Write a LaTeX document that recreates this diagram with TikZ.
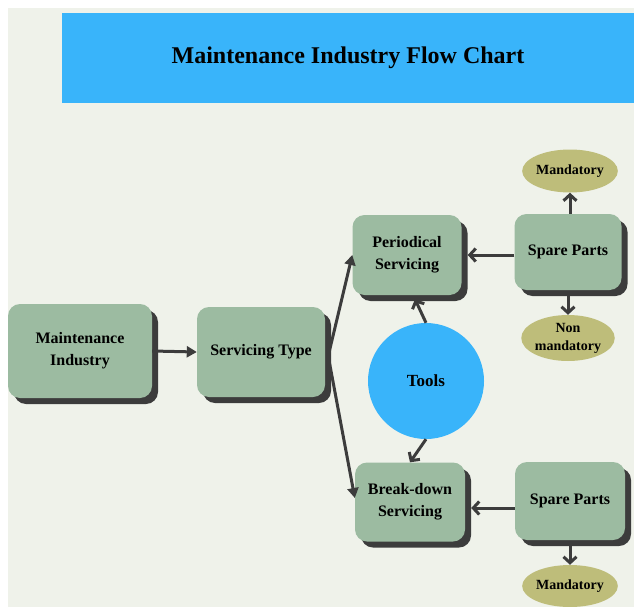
\documentclass[tikz,border=0pt]{standalone}
\usepackage{fontspec}
\setmainfont{Liberation Serif}
\usetikzlibrary{shadows,arrows.meta,calc,shapes.geometric}

\definecolor{bgcol}{RGB}{239,242,234}
\definecolor{bluecol}{RGB}{57,180,250}
\definecolor{sagecol}{RGB}{156,187,161}
\definecolor{olivecol}{RGB}{190,189,122}
\definecolor{darkcol}{RGB}{60,60,60}

\tikzset{
  box/.style={draw=none, fill=sagecol, rounded corners=12pt, align=center,
    font=\fontsize{16}{22}\selectfont\bfseries, inner sep=2pt,
    drop shadow={shadow xshift=6pt, shadow yshift=-6pt, fill=darkcol, opacity=1}},
  pill/.style={ellipse, fill=olivecol, align=center,
    font=\fontsize{14}{18}\selectfont\bfseries, inner sep=0pt},
  bar/.style={draw=darkcol, line width=3pt},
  fat/.style={bar, -{Triangle[length=10pt,width=11pt]}},
  barb/.style={bar, -{Straight Barb[length=6pt,width=13pt,line width=3pt]}}
}

\begin{document}
\begin{tikzpicture}[x=1pt,y=-1pt]
    % Page and background
    \useasboundingbox (0,0) rectangle (634,607);
    \fill[bgcol] (8,8) rectangle (634,607);
    % Title
    \node[fill=bluecol, minimum width=572pt, minimum height=90pt,
      font=\fontsize{24}{28}\selectfont\bfseries] (title) at (348,58)
      {Maintenance Industry Flow Chart};
    % Boxes
    \node[box, minimum width=144pt, minimum height=94pt] (mi) at (80,351) {Maintenance\\Industry};
    \node[box, minimum width=128pt, minimum height=90pt] (st) at (261,352) {Servicing Type};
    \node[box, minimum width=109pt, minimum height=80pt] (ps) at (407,255) {Periodical\\Servicing};
    \node[box, minimum width=107pt, minimum height=76pt] (sp1) at (568,252) {Spare Parts};
    \node[box, minimum width=110pt, minimum height=79pt] (bs) at (410,502) {Break-down\\Servicing};
    \node[box, minimum width=110pt, minimum height=78pt] (sp2) at (570,501) {Spare Parts};
    % Ellipses
    \node[pill, minimum width=94pt, minimum height=43pt] (man1) at (570,171) {Mandatory};
    \node[pill, minimum width=92pt, minimum height=46pt] (non) at (568,338) {Non\\mandatory};
    \node[pill, minimum width=94pt, minimum height=42pt] (man2) at (570,586) {Mandatory};
    % Tools
    \node[circle, fill=bluecol, minimum size=116pt, inner sep=0pt,
      font=\fontsize{17}{20}\selectfont\bfseries] (tools) at (426,381) {Tools};
    % Arrows
    \draw[fat] (mi.east) -- (st.west);
    \draw[fat] ($(st.east)+(3,4)$) -- (ps.west);
    \draw[fat] ($(st.east)+(3,4)$) -- ($(bs.west)+(0,-4)$);
    \draw[barb] (sp1.west |- ps.east) -- ($(ps.east)+(6,0)$);
    \draw[barb] ($(sp2.west)+(0,7)$) -- ($(bs.east)+(6,6)$);
    \draw[barb] (sp1.north -| man1.south) -- (man1.south);
    \draw[barb] ($(sp1.south)+(0,6)$) -- (non.north);
    \draw[barb] ($(sp2.south)+(0,6)$) -- (man2.north);
    \draw[barb] (tools.north) -- ($(ps.south)+(8,4)$);
    \draw[barb] (tools.south) -- (bs.north);
\end{tikzpicture}
\end{document}
